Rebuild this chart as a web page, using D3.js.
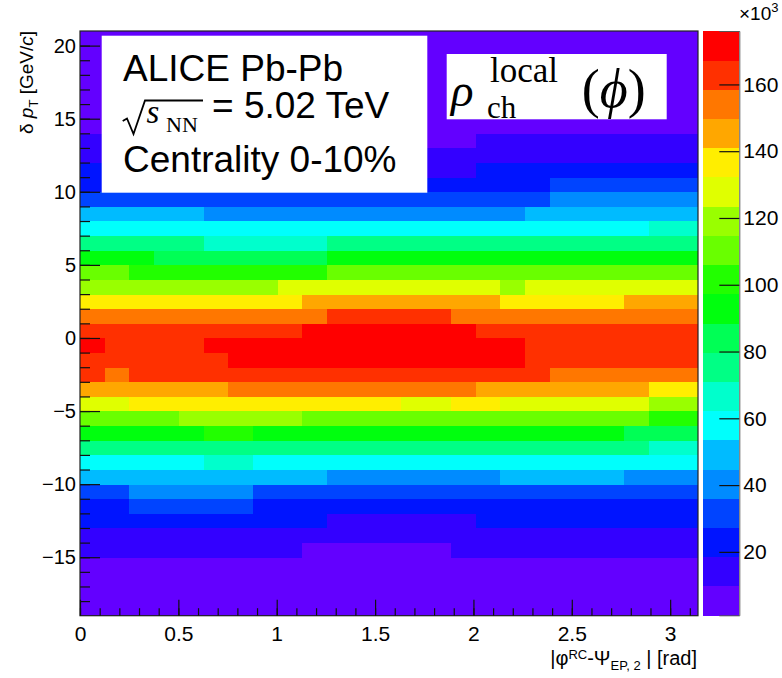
<!DOCTYPE html>
<html><head><meta charset="utf-8">
<script src="https://cdn.jsdelivr.net/npm/d3@7/dist/d3.min.js"></script>
<style>
body{margin:0;background:#fff;}
svg{display:block;}
text{font-family:"Liberation Sans",Arial,Helvetica,sans-serif;fill:#000;}
.serif{font-family:"Liberation Serif","Times New Roman",serif;}
</style></head><body>
<svg id="chart" width="782" height="678"></svg>
<script>
// ---------------- data ----------------
const phiDomain = [0, Math.PI];           // |phi^RC - Psi_EP,2| [rad]
const nPhiBins = 25;
const dptDomain = [-19, 21];              // delta pT [GeV/c]
const dptBinLow = [-19,-18,-17,-16,-15,-14,-13,-12,-11,-10,-9,-8,-7,-6,-5,-4,-3,-2,-1,0,
                   1,2,3,4,5,6,7,8,9,10,11,12,13,14,15,16,17,18,19,20];
// rho_ch^local density (x10^3), one row per dpT bin (bottom -> top), 25 phi bins each
const rho = [
 [5,5,5,5,5,5,5,5,5,5,5,5,5,5,5,5,5,5,5,5,5,5,5,5,5],                 // -19
 [5,5,5,5,5,5,5,5,5,5,5,5,5,5,5,5,5,5,5,5,5,5,5,5,5],                 // -18
 [5,5,5,5,5,5,5,5,5,5,5,5,5,5,5,5,5,5,5,5,5,5,5,5,5],                 // -17
 [5,5,5,5,5,5,5,5,5,5,5,5,5,5,5,5,5,5,5,5,5,5,5,5,5],                 // -16
 [14,14,14,14,14,14,14,14,14,5,5,5,5,5,5,14,14,14,14,14,14,14,14,14,14], // -15
 [14,14,14,14,14,14,14,14,14,14,14,14,14,14,14,14,14,14,14,14,14,14,14,14,14], // -14
 [23,23,23,23,23,23,23,23,23,23,14,14,14,14,14,14,23,23,23,23,23,23,23,23,23], // -13
 [23,23,32,32,32,32,32,23,23,23,23,23,23,23,23,23,23,23,23,23,23,23,23,23,23], // -12
 [32,32,40,40,40,40,40,32,32,32,32,32,32,32,32,32,32,32,32,32,32,32,32,32,32], // -11
 [49,49,49,49,49,49,49,49,49,49,40,40,40,40,40,40,40,49,49,49,49,49,40,40,40], // -10
 [58,58,58,58,58,67,67,58,58,58,58,58,58,58,58,58,58,58,58,58,58,58,58,58,58], // -9
 [75,75,75,75,75,75,75,75,75,75,75,75,75,75,75,75,75,75,75,75,75,75,75,67,67], // -8
 [93,93,93,93,93,102,102,93,93,93,93,93,93,93,93,93,93,93,93,93,93,93,84,84,84], // -7
 [110,110,110,110,119,119,119,119,119,110,110,110,110,110,110,110,110,110,110,110,110,110,110,102,102], // -6
 [128,128,137,137,137,137,137,137,137,137,137,137,137,128,128,137,137,128,128,128,128,128,128,119,119], // -5
 [145,145,145,145,145,145,154,154,154,154,154,154,154,154,154,154,145,145,145,145,145,145,145,137,137], // -4
 [163,154,163,163,163,163,163,163,163,163,163,163,163,163,163,163,163,163,163,154,154,154,154,154,154], // -3
 [163,163,163,163,163,163,172,172,172,172,172,172,172,172,172,172,172,172,163,163,163,163,163,163,163], // -2
 [172,163,163,163,163,172,172,172,172,172,172,172,172,172,172,172,172,172,163,163,163,163,163,163,163], // -1
 [163,163,163,163,163,163,163,163,163,172,172,172,172,172,172,172,163,163,163,163,163,163,163,163,163], // 0
 [154,154,154,154,154,154,154,154,154,154,163,163,163,163,163,154,154,154,154,154,154,154,154,154,154], // 1
 [137,137,137,137,137,137,137,137,137,145,145,145,145,145,145,145,145,137,137,137,137,137,145,145,145], // 2
 [119,119,119,119,119,119,119,119,128,128,128,128,128,128,128,128,128,119,128,128,128,128,128,128,128], // 3
 [110,110,102,102,102,102,102,102,102,102,110,110,110,110,110,110,110,110,110,110,110,110,110,110,110], // 4
 [93,93,93,84,84,84,84,84,84,84,93,93,93,93,93,93,93,93,93,93,93,93,93,93,93], // 5
 [75,75,75,75,75,67,67,67,67,67,75,75,75,75,75,75,75,75,75,75,75,75,75,75,75], // 6
 [58,58,58,58,58,58,58,58,58,58,58,58,58,58,58,58,58,58,58,58,58,58,58,67,67], // 7
 [49,49,49,49,49,40,40,40,40,40,40,40,40,40,40,40,40,40,49,49,49,49,49,49,49], // 8
 [32,32,32,32,32,32,32,32,32,32,32,32,32,32,32,32,32,32,32,40,40,40,40,40,40], // 9
 [23,23,23,23,23,23,23,23,23,23,23,23,23,23,23,23,23,23,23,32,32,32,32,32,32], // 10
 [23,23,23,23,23,23,23,23,14,14,14,14,14,14,14,14,23,23,23,23,23,23,23,23,23], // 11
 [14,14,14,14,14,14,14,14,14,14,14,14,14,14,14,14,14,14,14,14,14,14,14,14,14], // 12
 [14,14,14,14,14,14,14,14,14,5,5,5,5,5,5,5,14,14,14,14,14,14,14,14,14],       // 13
 [5,5,5,5,5,5,5,5,5,5,5,5,5,5,5,5,5,5,5,5,5,5,5,5,5],                 // 14
 [5,5,5,5,5,5,5,5,5,5,5,5,5,5,5,5,5,5,5,5,5,5,5,5,5],                 // 15
 [5,5,5,5,5,5,5,5,5,5,5,5,5,5,5,5,5,5,5,5,5,5,5,5,5],                 // 16
 [5,5,5,5,5,5,5,5,5,5,5,5,5,5,5,5,5,5,5,5,5,5,5,5,5],                 // 17
 [5,5,5,5,5,5,5,5,5,5,5,5,5,5,5,5,5,5,5,5,5,5,5,5,5],                 // 18
 [5,5,5,5,5,5,5,5,5,5,5,5,5,5,5,5,5,5,5,5,5,5,5,5,5],                 // 19
 [5,5,5,5,5,5,5,5,5,5,5,5,5,5,5,5,5,5,5,5,5,5,5,5,5]                  // 20
];
const zDomain = [1, 176];                 // colour-bar range (x10^3)
const paletteColors = ["#6300ff","#3300ff","#0014ff","#0044ff","#008bff","#00bbff","#00fffc",
  "#00ffcc","#00ff85","#00ff55","#00ff0e","#22ff00","#69ff00","#99ff00","#e0ff00","#ffee00",
  "#ffa700","#ff7700","#ff3000","#ff0000"];
const xTickValues = [0, 0.5, 1, 1.5, 2, 2.5, 3];
const xMinorValues = d3.range(0, 3.15, 0.1);
const yTickValues = [-15, -10, -5, 0, 5, 10, 15, 20];
const yMinorValues = d3.range(-18, 21, 1);
const zTickValues = [20, 40, 60, 80, 100, 120, 140, 160];

// ---------------- layout ----------------
const svg = d3.select("#chart");
const plot = {left: 80, right: 698, top: 31, bottom: 615.7};
const bar = {left: 702.7, right: 739.3, top: 31, bottom: 615.3};

const x = d3.scaleLinear().domain(phiDomain).range([plot.left, plot.right]);
const y = d3.scaleLinear().domain(dptDomain).range([plot.bottom, plot.top]);
const color = d3.scaleQuantize().domain(zDomain).range(paletteColors);
const zScale = d3.scaleLinear().domain(zDomain).range([bar.bottom, bar.top]);

const binW = (phiDomain[1] - phiDomain[0]) / nPhiBins;
const cells = [];
rho.forEach((row, r) => row.forEach((v, c) => cells.push({r, c, v})));

svg.append("g").selectAll("rect").data(cells).join("rect")
  .attr("x", d => x(d.c * binW))
  .attr("y", d => y(dptBinLow[d.r] + 1))
  .attr("width", d => x((d.c + 1) * binW) - x(d.c * binW) + 0.4)
  .attr("height", d => y(dptBinLow[d.r]) - y(dptBinLow[d.r] + 1) + 0.4)
  .attr("fill", d => color(d.v))
  .attr("shape-rendering", "crispEdges");

// frame
svg.append("rect").attr("x", plot.left).attr("y", plot.top)
  .attr("width", plot.right - plot.left).attr("height", plot.bottom - plot.top)
  .attr("fill", "none").attr("stroke", "#222").attr("stroke-width", 1.2);

// x axis
const gx = svg.append("g").attr("transform", `translate(0,${plot.bottom})`);
gx.call(d3.axisBottom(x).tickValues(xTickValues).tickSize(-16).tickPadding(10.5)
  .tickFormat(d => String(d)));
const gxm = svg.append("g").attr("transform", `translate(0,${plot.bottom})`);
gxm.call(d3.axisBottom(x).tickValues(xMinorValues).tickSize(-7.5).tickFormat(""));
// y axis
const gy = svg.append("g").attr("transform", `translate(${plot.left},0)`);
gy.call(d3.axisLeft(y).tickValues(yTickValues).tickSize(-20).tickPadding(4)
  .tickFormat(d => d < 0 ? "\u2212" + Math.abs(d) : String(d)));
const gym = svg.append("g").attr("transform", `translate(${plot.left},0)`);
gym.call(d3.axisLeft(y).tickValues(yMinorValues).tickSize(-10).tickFormat(""));
[gx, gxm, gy, gym].forEach(g => {
  g.select(".domain").remove();
  g.selectAll(".tick line").attr("stroke", "#111").attr("stroke-width", 1.2);
});
gx.selectAll(".tick text").attr("font-size", 21).attr("font-family", "Liberation Sans, Arial, sans-serif").attr("fill", "#000");
gy.selectAll(".tick text").attr("font-size", 20).attr("font-family", "Liberation Sans, Arial, sans-serif").attr("fill", "#000");

// colour bar
const levels = paletteColors.map((c, i) => {
  const [a, b] = color.invertExtent(c);
  return {c, a, b};
});
svg.append("g").selectAll("rect").data(levels).join("rect")
  .attr("x", bar.left).attr("width", bar.right - bar.left)
  .attr("y", d => zScale(d.b)).attr("height", d => zScale(d.a) - zScale(d.b) + 0.4)
  .attr("fill", d => d.c).attr("shape-rendering", "crispEdges");
const gz = svg.append("g").attr("transform", `translate(${bar.right},0)`);
gz.call(d3.axisRight(zScale).tickValues(zTickValues).tickSize(-20).tickPadding(4));
gz.select(".domain").attr("stroke", "#555").attr("stroke-width", 1);
gz.selectAll(".tick line").attr("stroke", "#111").attr("stroke-width", 1.2);
gz.selectAll(".tick text").attr("font-size", 21).attr("font-family", "Liberation Sans, Arial, sans-serif").attr("fill", "#000");
svg.append("text").attr("x", 739).attr("y", 20).attr("font-size", 19)
  .text("\u00d710").append("tspan").attr("dy", -8).attr("font-size", 13).text("3");

// axis titles
const xt = svg.append("text").attr("x", 697).attr("y", 665).attr("text-anchor", "end").attr("font-size", 20);
xt.append("tspan").text("|\u03c6");
xt.append("tspan").attr("dy", -6.5).attr("font-size", 13).text("RC");
xt.append("tspan").attr("dy", 6.5).text("-\u03a8");
xt.append("tspan").attr("dy", 5).attr("font-size", 13).text("EP, 2");
xt.append("tspan").attr("dy", -5).text(" | [rad]");

const yt = svg.append("text").attr("transform", "translate(33,31) rotate(-90)")
  .attr("text-anchor", "end").attr("font-size", 19);
yt.append("tspan").text("\u03b4 ");
yt.append("tspan").attr("font-style", "italic").text("p");
yt.append("tspan").attr("dy", 5).attr("font-size", 13).text("T");
yt.append("tspan").attr("dy", -5).text(" [GeV/");
yt.append("tspan").attr("font-style", "italic").text("c");
yt.append("tspan").text("]");

// legend box 1
svg.append("rect").attr("x", 101.7).attr("y", 35.7).attr("width", 325.6).attr("height", 157).attr("fill", "#fff");
svg.append("text").attr("x", 123).attr("y", 81).attr("font-size", 37).text("ALICE Pb-Pb");
svg.append("path").attr("d", "M122.7,121 L127,118.5 L133.5,134 L145,100.5 H203")
  .attr("fill", "none").attr("stroke", "#000").attr("stroke-width", 1.8);
svg.append("text").attr("class", "serif").attr("x", 146.5).attr("y", 123).attr("font-size", 33)
  .attr("font-style", "italic").text("s");
svg.append("text").attr("class", "serif").attr("x", 166).attr("y", 131.5).attr("font-size", 22).text("NN");
svg.append("text").attr("x", 212).attr("y", 118).attr("font-size", 37).text("= 5.02 TeV");
svg.append("text").attr("x", 123).attr("y", 172).attr("font-size", 37).text("Centrality 0-10%");

// legend box 2
svg.append("rect").attr("x", 446.7).attr("y", 54).attr("width", 220).attr("height", 65.3).attr("fill", "#fff");
svg.append("text").attr("class", "serif").attr("x", 451).attr("y", 106).attr("font-size", 47)
  .attr("font-style", "italic").text("\u03c1");
svg.append("text").attr("class", "serif").attr("x", 490).attr("y", 82).attr("font-size", 35).text("local");
svg.append("text").attr("class", "serif").attr("x", 487).attr("y", 118).attr("font-size", 31).text("ch");
const ph = svg.append("text").attr("class", "serif").attr("x", 581.7).attr("y", 107).attr("font-size", 54);
ph.append("tspan").text("(");
ph.append("tspan").attr("font-style", "italic").text("\u03d5");
ph.append("tspan").text(")");
</script>
</body></html>
